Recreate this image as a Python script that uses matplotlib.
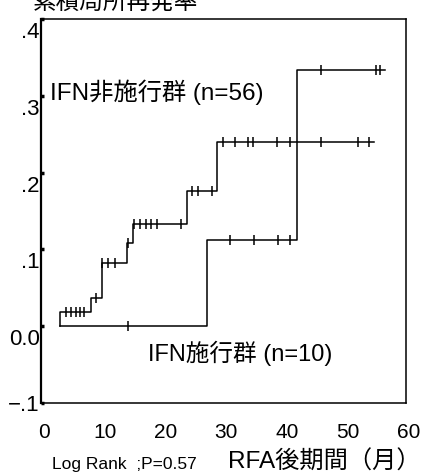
"""Cumulative local recurrence after RFA, IFN-treated vs untreated groups.

Kaplan-Meier style step curves with censoring ticks. Saves out.png.
"""

import matplotlib

matplotlib.use("Agg")

import matplotlib.pyplot as plt
import matplotlib.transforms as mtransforms
import numpy as np

# IFN untreated group (n=56): step times (months) and cumulative rate after each step
untreated_t = [2.6, 2.6, 7.7, 9.5, 13.7, 14.6, 23.5, 28.5, 54.2]
untreated_y = [0.0, 0.018, 0.037, 0.082, 0.108, 0.133, 0.176, 0.240, 0.240]
untreated_censor = [
    3.7, 4.4, 5.2, 5.9, 6.5, 8.6, 9.6, 10.5, 11.6, 13.8, 14.8, 15.8, 16.7,
    17.6, 18.6, 22.5, 24.3, 25.4, 27.6, 29.5, 31.4, 33.6, 34.4, 38.4, 40.5,
    45.5, 51.6, 53.5,
]

# IFN treated group (n=10)
treated_t = [2.6, 26.8, 41.6, 56.1]
treated_y = [0.0, 0.112, 0.334, 0.334]
treated_censor = [13.8, 30.6, 34.6, 38.5, 40.5, 45.5, 54.6, 55.2]

x_ticks = [0, 10, 20, 30, 40, 50, 60]
y_ticks = [-0.1, 0.0, 0.1, 0.2, 0.3, 0.4]
y_tick_labels = ["\u2212.1", "0.0", ".1", ".2", ".3", ".4"]

JP = ["Liberation Sans", "Noto Sans CJK JP"]


def level_at(t, y, times):
    """Value of a post-step curve at the given times."""
    idx = np.searchsorted(np.asarray(t), np.asarray(times), side="right") - 1
    return np.asarray(y)[idx]


def run():
    fig = plt.figure(figsize=(4.25, 4.74), dpi=100)
    ax = fig.add_axes([0.0965, 0.1498, 0.8588, 0.8101])

    for t, y, cens in [
        (untreated_t, untreated_y, untreated_censor),
        (treated_t, treated_y, treated_censor),
    ]:
        ax.plot(t, y, drawstyle="steps-post", color="black", linewidth=1.1)
        ax.plot(cens, level_at(t, y, cens), linestyle="none", marker="|",
                markersize=6.5, markeredgewidth=1.1, color="black")

    ax.set_xlim(-0.49, 59.54)
    ax.set_ylim(-0.1, 0.4)

    for side in ["top", "right", "bottom"]:
        ax.spines[side].set_linewidth(1.1)
    ax.spines["left"].set_linewidth(1.6)

    # y ticks: small dots on the spine, labels set a little low
    ax.set_yticks(y_ticks)
    ax.set_yticklabels(y_tick_labels, fontsize=16, family="Liberation Sans")
    ax.tick_params(axis="y", direction="in", length=2, width=2.5, pad=1)
    shift = mtransforms.ScaledTranslation(0, -3 / 100, fig.dpi_scale_trans)
    for lab in ax.get_yticklabels()[1:]:
        lab.set_va("top")
        lab.set_transform(lab.get_transform() + shift)

    # x tick labels drawn as text so that 60 sits just past the frame
    ax.set_xticks([])
    xt = mtransforms.blended_transform_factory(ax.transData, fig.transFigure)
    for v in x_ticks:
        ax.text(v, 1 - 432 / 474, str(v), transform=xt, ha="center",
                va="center", fontsize=15, family="Liberation Sans")

    ax.text(1.0, 0.305, "IFN非施行群 (n=56)", fontsize=17.5, family=JP,
            ha="left", va="center")
    ax.text(17.1, -0.035, "IFN施行群 (n=10)", fontsize=17, family=JP,
            ha="left", va="center")

    fig.text(52 / 425, 1 - 465 / 474, "Log Rank  ;P=0.57", fontsize=12.5,
             family="Liberation Sans", ha="left", va="center")
    fig.text(228 / 425, 1 - 462 / 474, "RFA後期間（月）", fontsize=17.5,
             family=JP, ha="left", va="center")
    fig.text(33 / 425, 1 - 9 / 474, "累積局所再発率", fontsize=17,
             family=JP, ha="left", va="baseline")

    fig.savefig("out.png", dpi=100)
    plt.close(fig)


if __name__ == "__main__":
    run()
